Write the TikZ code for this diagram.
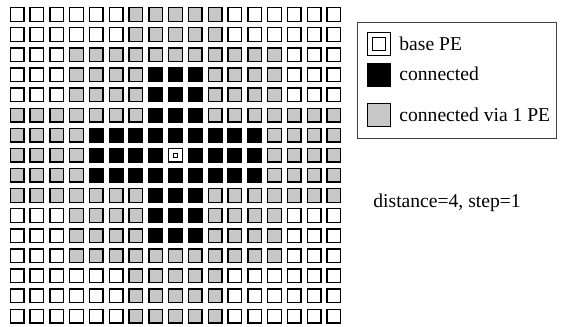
\documentclass[tikz,border=0pt]{standalone}
\usepackage{fontspec}
\setmainfont{Liberation Serif}
\usetikzlibrary{positioning}
\begin{document}
\begin{tikzpicture}[x=0.5pt,y=-0.5pt,font=\fontsize{9.8}{12}\selectfont,pe/.style={draw,line width=0.7pt,minimum size=6.8pt,inner sep=0pt,fill=white},viabox/.style={pe,fill=black!22},connbox/.style={pe,fill=black},basedot/.style={draw,line width=0.5pt,minimum size=2.2pt,inner sep=0pt,fill=white},keybox/.style={draw,line width=0.7pt,minimum size=11.5pt,inner sep=0pt},keytext/.style={anchor=base west,inner sep=0pt}]
\useasboundingbox (0,0) rectangle (561,326);
\foreach \r in {0,...,15}
  \foreach \c in {0,...,16} {
    \pgfmathtruncatemacro\dr{abs(\r-7)}
    \pgfmathtruncatemacro\dc{abs(\c-8)}
    \pgfmathtruncatemacro\kind{((\dc<=1 && \dr<=4) || (\dr<=1 && \dc<=4)) ? 2 : ((\dc<=2 || \dr<=2 || (\dc<=5 && \dr<=5)) ? 1 : 0)}
    \ifcase\kind
      \node[pe] (pe-\r-\c) at (17+19.8*\c,14.5+20.1*\r) {};
    \or
      \node[viabox] (pe-\r-\c) at (17+19.8*\c,14.5+20.1*\r) {};
    \or
      \node[connbox] (pe-\r-\c) at (17+19.8*\c,14.5+20.1*\r) {};
    \fi
  }
\node[pe] (base) at (pe-7-8) {};
\node[basedot] (basein) at (base) {};
\node[draw,line width=0.5pt,draw=black!75,minimum width=99.5pt,minimum height=57.5pt,inner sep=0pt] (legend) at (456.5,80.5) {};
\node[keybox,fill=white] (k1) at (379,44) {};
\node[draw,line width=0.6pt,minimum size=6.3pt,inner sep=0pt] (k1in) at (k1) {};
\node[keybox,fill=black] (k2) at (379,75) {};
\node[keybox,fill=black!22] (k3) at (379,115) {};
\node[keytext] (t1) at (399,51) {base PE};
\node[keytext] (t2) at (399,81) {connected};
\node[keytext] (t3) at (399,121) {connected via 1 PE};
\node[keytext] (info) at (373,207) {distance=4, step=1};
\end{tikzpicture}
\end{document}
